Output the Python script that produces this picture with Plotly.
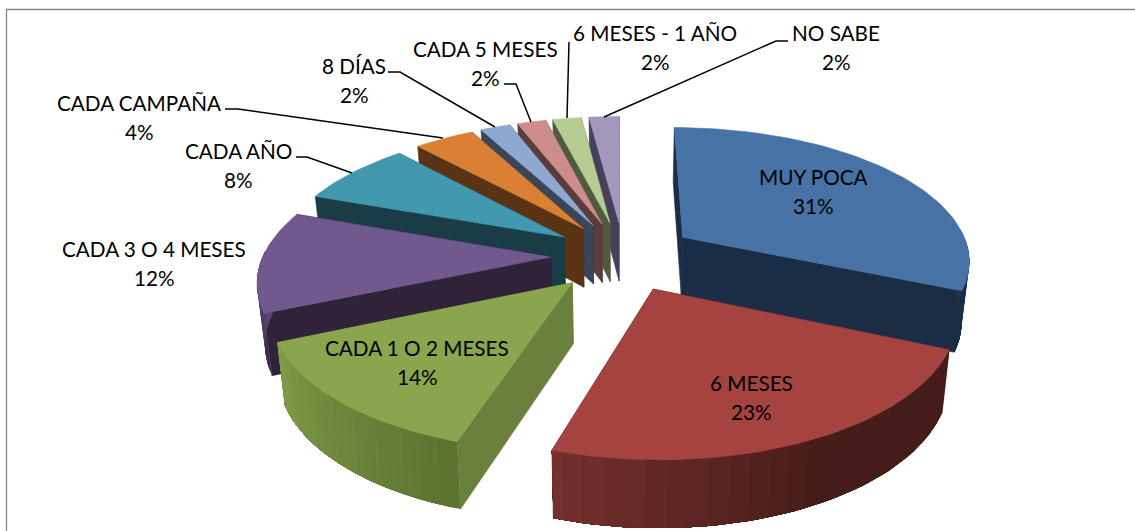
import math
import plotly.graph_objects as go

# Data
categories = ["MUY POCA", "6 MESES", "CADA 1 O 2 MESES", "CADA 3 O 4 MESES", "CADA AÑO",
              "CADA CAMPAÑA", "8 DÍAS", "CADA 5 MESES", "6 MESES - 1 AÑO", "NO SABE"]
values = [31.5, 23.4, 13.6, 12.0, 7.7, 4.0, 2.0, 1.9, 1.9, 2.0]
pct_labels = ["31%", "23%", "14%", "12%", "8%", "4%", "2%", "2%", "2%", "2%"]
top_colors = ["#4672A6", "#A54340", "#89A54E", "#71588F", "#4198AF",
              "#D98035", "#8FA8D0", "#CD8D8B", "#B7CC93", "#A596BC"]
face_colors = ["#1A2D45", "#451C19", "#6B803C", "#2E2339", "#1A3C47",
               "#5A3314", "#3A4558", "#5A3C3C", "#4F5B3C", "#45405C"]
side_left = ["#1E344F", "#75302D", "#7F9A48", "#5E4A78", "#2A5A68",
             "#6E4018", "#3A4558", "#5A3C3C", "#4F5B3C", "#45405C"]
side_right = ["#1A2D45", "#451C19", "#5C7330", "#3A2C4A", "#1A3C47",
              "#5A3314", "#3A4558", "#5A3C3C", "#4F5B3C", "#45405C"]
explode_x = [0.264, 0.264, 0.242, 0.241, 0.24, 0.232, 0.239, 0.223, 0.207, 0.087]

# label text anchor (centre x, name y, pct y)
label_pos = [(813, 177, 206), (751, 383, 412), (417, 348, 377), (154, 249, 278), (238, 151, 180),
             (139, 103, 132), (354, 66, 95), (485, 49, 78), (655, 33, 62), (836, 33, 62)]
leaders = [None, None, None, None,
           [(296, 157), (307, 157), (352, 173)],
           [(225, 109), (238, 109), (443, 138)],
           [(388, 72), (400, 72), (495, 127)],
           [(504, 84), (516, 84), (531, 122)],
           [(569, 42), (567, 118)],
           [(788, 41), (776, 41), (604, 117)]]

# projection parameters of the 3-D pie
PX, VY, C = 620.5, -587.0, 843.0
K, R, EXPL_Y, H = 0.157, 288.0, 0.264, 60.0


def proj(X, Y, down=False):
    s = 1.0 / (1.0 + K * Y)
    x = PX + R * X * s
    y = VY + C * s
    if down:
        y += H * s ** 0.6
        x = PX + (x - PX) * 0.978
    return x, y


def hex2rgb(h):
    return tuple(int(h[i:i + 2], 16) for i in (1, 3, 5))


def mix(a, b, t):
    ra, rb = hex2rgb(a), hex2rgb(b)
    return "rgb(%d,%d,%d)" % tuple(round(ra[i] + (rb[i] - ra[i]) * t) for i in range(3))


fig = go.Figure()


def poly(pts, color, w=0.6):
    xs = [p[0] for p in pts] + [pts[0][0]]
    ys = [p[1] for p in pts] + [pts[0][1]]
    fig.add_trace(go.Scatter(x=xs, y=ys, mode="lines", fill="toself", fillcolor=color,
                             line=dict(color=color, width=w), hoverinfo="skip", showlegend=False))


total = sum(values)
cum = 0.0
slices = []
for i, v in enumerate(values):
    a0 = cum / total * 2 * math.pi
    cum += v
    a1 = cum / total * 2 * math.pi
    slices.append((i, a0, a1))

# painter's order: back slices first, the two large front ones last
order = [9, 8, 7, 6, 5, 4, 3, 0, 2, 1]
for i in order:
    _, a0, a1 = slices[i]
    mid = (a0 + a1) / 2
    ox, oy = explode_x[i] * math.sin(mid), EXPL_Y * math.cos(mid)
    n = max(6, int((a1 - a0) / 0.03))
    angs = [a0 + (a1 - a0) * j / n for j in range(n + 1)]
    arc = [(ox + math.sin(a), oy + math.cos(a)) for a in angs]
    # radial faces
    for a in (a1, a0):
        e = (ox + math.sin(a), oy + math.cos(a))
        poly([proj(ox, oy), proj(*e), proj(*e, down=True), proj(ox, oy, down=True)], face_colors[i])
    # outer wall, only where it faces the viewer; shade runs by angle, each strip
    # reaches to the far end of the wall so no seams show
    vis = [j for j in range(n) if math.cos(angs[j] + (a1 - a0) / n / 2) < 0.05]
    if vis:
        v0, v1 = vis[0], vis[-1] + 1
        step = max(1, (v1 - v0) // 24)
        for j in range(v0, v1, step):
            frac = (j - v0) / max(1, v1 - v0 - 1)
            if i == 0:
                t = frac
            elif i == 1:
                t = min(1.0, (1 - frac) / 0.55)
            else:
                t = 1 - frac
            pts = arc[j:v1 + 1]
            poly([proj(*p) for p in pts] + [proj(*p, down=True) for p in reversed(pts)],
                 mix(side_left[i], side_right[i], t), w=0)
    # top
    poly([proj(ox, oy)] + [proj(*p) for p in arc], top_colors[i])

# leader lines
for pts in leaders:
    if pts:
        fig.add_trace(go.Scatter(x=[p[0] for p in pts], y=[p[1] for p in pts], mode="lines",
                                 line=dict(color="#000000", width=1.5), hoverinfo="skip", showlegend=False))

# chart frame
fig.add_trace(go.Scatter(x=[6.5, 6.5, 1135], y=[531, 9.5, 9.5], mode="lines",
                         line=dict(color="#868686", width=1.3), hoverinfo="skip", showlegend=False))

FONT = dict(family="Lato, Carlito, Calibri, sans-serif", size=20.7, color="#000000")
for name, pct, (cx, y0, y1) in zip(categories, pct_labels, label_pos):
    fig.add_annotation(x=cx, y=y0, text=name, showarrow=False, font=FONT, xanchor="center", yanchor="middle")
    fig.add_annotation(x=cx, y=y1, text=pct, showarrow=False, font=FONT, xanchor="center", yanchor="middle")

fig.update_layout(
    width=1135, height=531, autosize=False,
    margin=dict(l=0, r=0, t=0, b=0),
    paper_bgcolor="white", plot_bgcolor="white", showlegend=False,
    xaxis=dict(range=[0, 1135], visible=False, fixedrange=True),
    yaxis=dict(range=[531, 0], visible=False, fixedrange=True),
)
fig.write_html("out.html", config={"displayModeBar": False},
               post_script="document.body.style.margin='0';document.body.style.overflow='hidden';")
